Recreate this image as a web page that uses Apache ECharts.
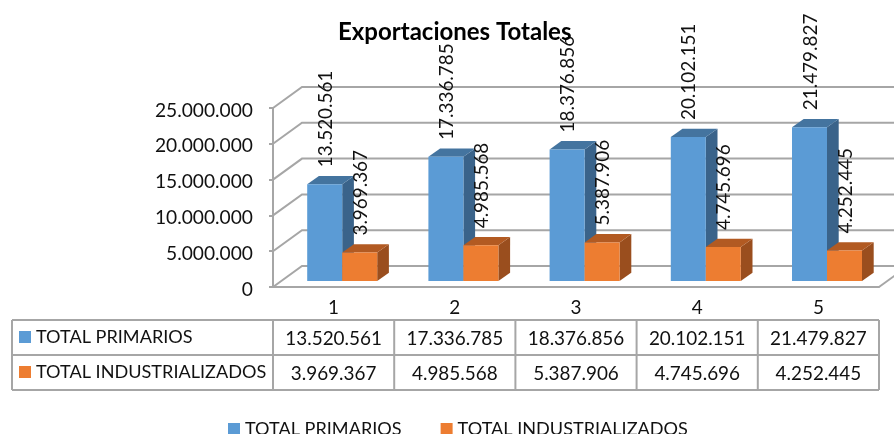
<!DOCTYPE html>
<html>
<head>
<meta charset="utf-8">
<style>
  html, body { margin: 0; padding: 0; background: #fff; overflow: hidden; }
  #chart { width: 894px; height: 434px; }
</style>
<script src="https://cdn.jsdelivr.net/npm/echarts@6/dist/echarts.min.js"></script>
</head>
<body>
<div id="chart"></div>
<script>
const categories = ["1", "2", "3", "4", "5"];
const primarios = [13520561, 17336785, 18376856, 20102151, 21479827];
const industrializados = [3969367, 4985568, 5387906, 4745696, 4252445];
const yTicks = [0, 5000000, 10000000, 15000000, 20000000, 25000000];
const nombres = ["TOTAL PRIMARIOS", "TOTAL INDUSTRIALIZADOS"];

const FONT = "Lato";
const FONT_SIZE = 18.9;
const GRAY = "#a6a6a6";
const TEXT = "#111111";
const colors = [
  { front: "#5b9bd5", top: "#44749f", side: "#3a638a" },
  { front: "#ed7d31", top: "#b25a22", side: "#9a4e1e" }
];

// perspectiva falsa: desplazamiento de la pared trasera y de las barras
const WALL_DX = 29, WALL_DY = 21;
const BAR_DX = 8.6, BAR_DY = 6;
const DEPTH_DX = 11.7, DEPTH_DY = 8.3;
const BAR_W = 35;

const gridLeft = 273, gridRight = 15, gridTop = 108, gridBottom = 147;
const tableTop = 320, rowH = 35, tableLeft = 12;

const fmt = (v) => String(v).replace(/\B(?=(\d{3})+(?!\d))/g, ".");

function lineEl(x1, y1, x2, y2) {
  return {
    type: "line",
    shape: { x1, y1, x2, y2 },
    style: { stroke: GRAY, lineWidth: 2 }
  };
}

function renderWall(params, api) {
  const rect = params.coordSys;
  const y = api.coord([0, api.value(0)])[1];
  const x0 = rect.x, x1 = rect.x + rect.width;
  const children = [{
    type: "polyline",
    shape: { points: [[x0, y], [x0 + WALL_DX, y - WALL_DY], [x1 + WALL_DX, y - WALL_DY]] },
    style: { stroke: GRAY, lineWidth: 2, fill: "none" }
  }];
  if (api.value(0) === 0) {
    children.push(lineEl(x1, y, x1 + WALL_DX, y - WALL_DY));
  }
  return { type: "group", children };
}

function makeBars(serie) {
  return function (params, api) {
    const i = api.value(0);
    const top = api.coord([i, api.value(1)]);
    const base = api.coord([i, 0]);
    const c = colors[serie];
    const xa = top[0] + BAR_DX + (serie - 1) * BAR_W;
    const xb = xa + BAR_W;
    const yt = top[1] - BAR_DY;
    const yb = base[1] - BAR_DY;
    return {
      type: "group",
      children: [
        {
          type: "polygon",
          shape: { points: [[xb, yt], [xb + DEPTH_DX, yt - DEPTH_DY], [xb + DEPTH_DX, yb - DEPTH_DY], [xb, yb]] },
          style: { fill: c.side }
        },
        {
          type: "polygon",
          shape: { points: [[xa, yt], [xa + DEPTH_DX, yt - DEPTH_DY], [xb + DEPTH_DX, yt - DEPTH_DY], [xb, yt]] },
          style: { fill: c.top }
        },
        { type: "rect", shape: { x: xa, y: yt, width: BAR_W, height: yb - yt }, style: { fill: c.front } }
      ]
    };
  };
}

function makeLabels(serie) {
  return function (params, api) {
    const i = api.value(0);
    const top = api.coord([i, api.value(1)]);
    const xa = top[0] + BAR_DX + (serie - 1) * BAR_W;
    return {
      type: "text",
      x: xa + BAR_W / 2 + 1,
      y: top[1] - BAR_DY - 17,
      rotation: Math.PI / 2,
      style: {
        text: fmt(api.value(1)),
        align: "left",
        verticalAlign: "middle",
        fontFamily: FONT,
        fontSize: FONT_SIZE,
        fill: TEXT
      }
    };
  };
}

function renderTable(params, api) {
  const i = api.value(0);
  const x = api.coord([i, 0])[0];
  const half = api.size([1, 0])[0] / 2;
  const cell = (v, row) => ({
    type: "text",
    x,
    y: tableTop + rowH * row + rowH / 2 + 1.5,
    style: {
      text: fmt(v),
      align: "center",
      verticalAlign: "middle",
      fontFamily: FONT,
      fontSize: FONT_SIZE,
      fill: TEXT
    }
  });
  return {
    type: "group",
    children: [
      lineEl(x + half, tableTop, x + half, tableTop + 2 * rowH),
      cell(api.value(1), 0),
      cell(api.value(2), 1)
    ]
  };
}

const rowGraphics = [];
[0, 1, 2].forEach((r) => {
  rowGraphics.push({
    type: "line",
    shape: { x1: tableLeft, y1: tableTop + r * rowH, x2: 894 - gridRight, y2: tableTop + r * rowH },
    style: { stroke: GRAY, lineWidth: 2 }
  });
});
[tableLeft, gridLeft].forEach((x) => {
  rowGraphics.push({
    type: "line",
    shape: { x1: x, y1: tableTop, x2: x, y2: tableTop + 2 * rowH },
    style: { stroke: GRAY, lineWidth: 2 }
  });
});
nombres.forEach((n, r) => {
  rowGraphics.push({
    type: "rect",
    shape: { x: 19, y: tableTop + r * rowH + 11, width: 12, height: 12 },
    style: { fill: colors[r].front }
  });
  rowGraphics.push({
    type: "text",
    x: 36,
    y: tableTop + r * rowH + 17,
    style: { text: n, align: "left", verticalAlign: "middle", fontFamily: FONT, fontSize: 18.1, fill: TEXT }
  });
});

const chart = echarts.init(document.getElementById("chart"));

chart.setOption({
  animation: false,
  backgroundColor: "#fff",
  title: {
    text: "Exportaciones Totales",
    left: 333,
    top: 15,
    textStyle: { fontFamily: FONT, fontSize: 24, fontWeight: "bold", color: "#000" }
  },
  legend: {
    left: 228,
    top: 420,
    data: nombres,
    icon: "rect",
    itemWidth: 12,
    itemHeight: 12,
    itemGap: 39,
    padding: 0,
    selectedMode: false,
    textStyle: { fontFamily: FONT, fontSize: 18.1, color: TEXT }
  },
  grid: { left: gridLeft, right: gridRight, top: gridTop, bottom: gridBottom },
  xAxis: {
    type: "category",
    data: categories,
    axisLine: { lineStyle: { color: GRAY, width: 2 } },
    axisTick: { length: 33, lineStyle: { color: GRAY, width: 2 } },
    axisLabel: { margin: 11, fontFamily: FONT, fontSize: FONT_SIZE, color: TEXT }
  },
  yAxis: {
    type: "value",
    min: 0,
    max: 25000000,
    interval: 5000000,
    axisLine: { show: true, lineStyle: { color: GRAY, width: 2 } },
    axisTick: { show: true, length: 4, lineStyle: { color: GRAY, width: 2 } },
    axisLabel: { margin: 20, verticalAlign: "top", lineHeight: 5, fontFamily: FONT, fontSize: 19.2, color: TEXT, formatter: fmt },
    splitLine: { show: false }
  },
  graphic: rowGraphics,
  series: [
    { type: "custom", name: "paredes", silent: true, z: 1, renderItem: renderWall, data: yTicks.map((v) => [v]), encode: { y: 0 } },
    { type: "custom", name: nombres[0], z: 2, itemStyle: { color: colors[0].front }, renderItem: makeBars(0), data: primarios.map((v, i) => [i, v]), encode: { x: 0, y: 1 } },
    { type: "custom", name: nombres[1], z: 3, itemStyle: { color: colors[1].front }, renderItem: makeBars(1), data: industrializados.map((v, i) => [i, v]), encode: { x: 0, y: 1 } },
    { type: "custom", name: "etiquetas1", silent: true, z: 4, renderItem: makeLabels(0), data: primarios.map((v, i) => [i, v]), encode: { x: 0, y: 1 } },
    { type: "custom", name: "etiquetas2", silent: true, z: 4, renderItem: makeLabels(1), data: industrializados.map((v, i) => [i, v]), encode: { x: 0, y: 1 } },
    { type: "custom", name: "tabla", silent: true, z: 4, renderItem: renderTable, data: categories.map((c, i) => [i, primarios[i], industrializados[i]]), encode: { x: 0 } }
  ]
});
</script>
</body>
</html>
